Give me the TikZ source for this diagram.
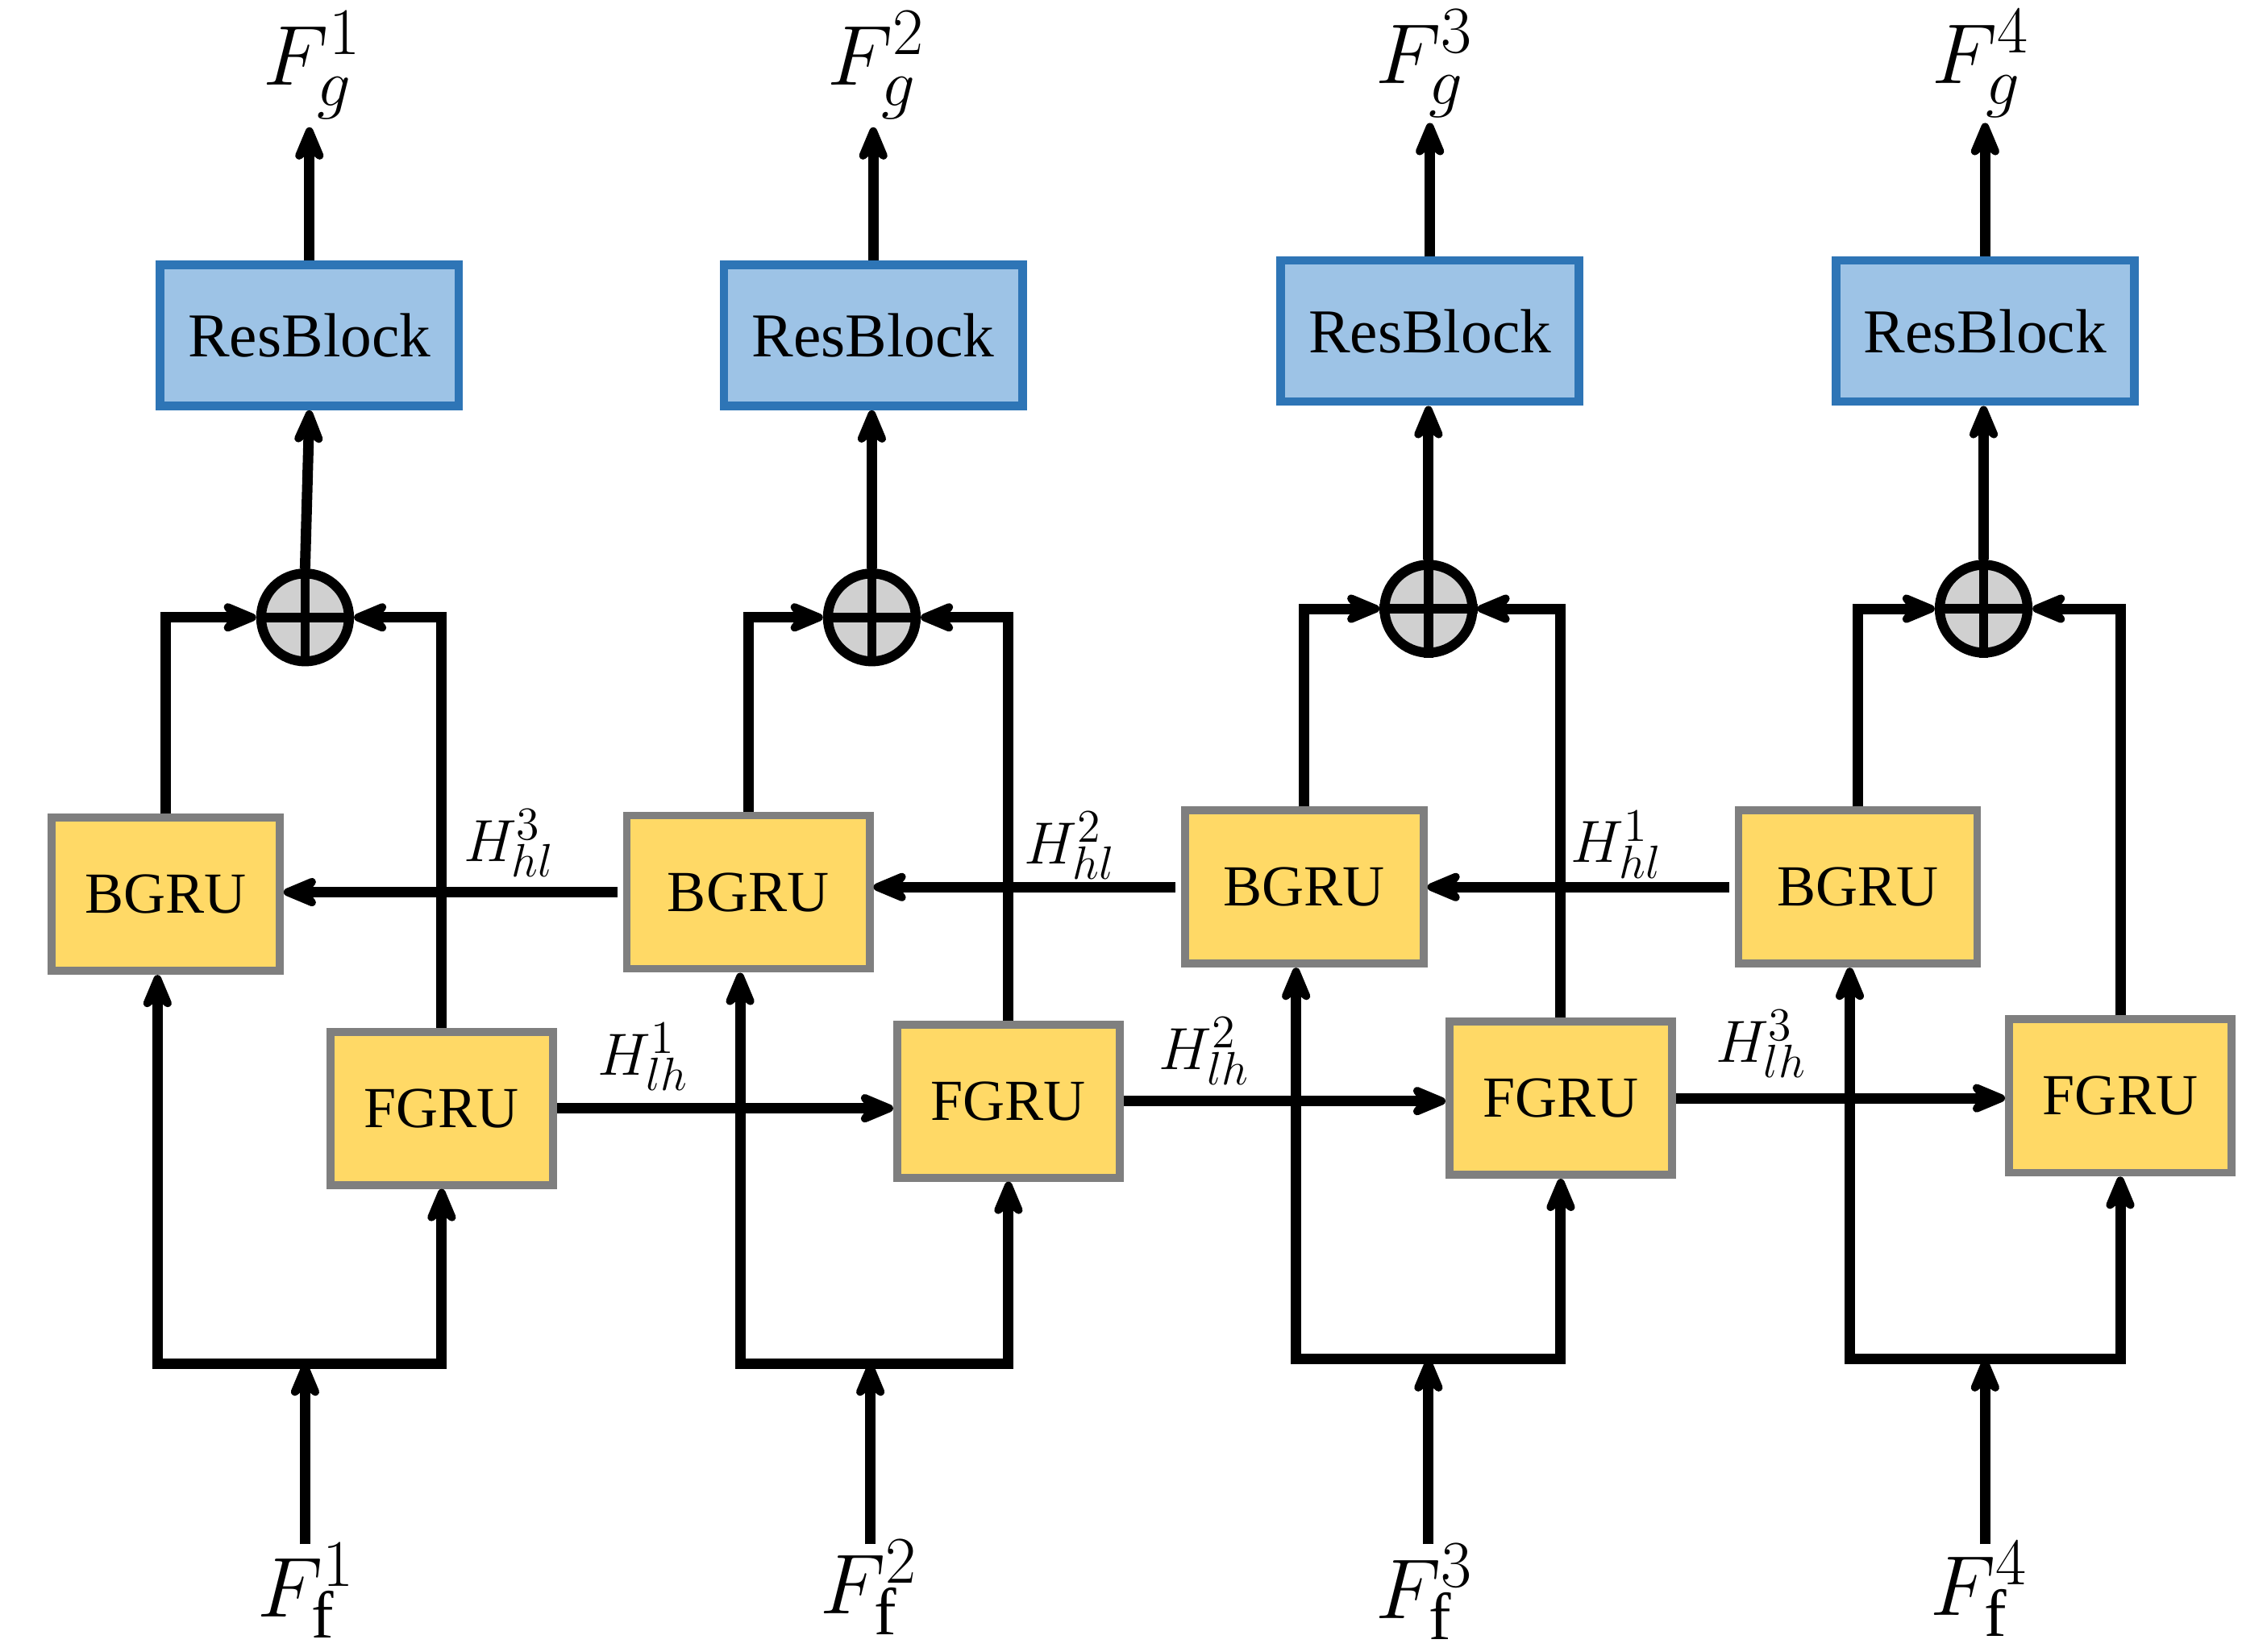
\RequirePackage{fix-cm}
\documentclass[tikz,border=0pt]{standalone}
\usepackage{fontspec}
\setmainfont{Liberation Serif}
\DeclareMathSizes{30}{30}{23.5}{19}
\DeclareMathSizes{21}{21}{16.5}{13}
\usetikzlibrary{arrows.meta}
\definecolor{rbfill}{HTML}{9DC3E6}
\definecolor{rbdraw}{HTML}{2E75B6}
\definecolor{gfill}{HTML}{FFD966}
\definecolor{gdraw}{HTML}{7F7F7F}
\definecolor{pfill}{HTML}{D0D0D0}
\begin{document}
\begin{tikzpicture}[x=0.017934cm,y=-0.017934cm,
  resbox/.style={draw=rbdraw,fill=rbfill,line width=3pt,minimum width=3.70cm,minimum height=1.75cm,inner sep=0pt,font=\fontsize{22}{26}\selectfont},
  gru/.style={draw=gdraw,fill=gfill,line width=2.8pt,minimum width=#1,minimum height=1.90cm,inner sep=0pt,font=\fontsize{20.5}{24}\selectfont},
  plusnode/.style={circle,draw,fill=pfill,line width=3.5pt,minimum size=1.09cm,inner sep=0pt},
  conn/.style={line width=3.7pt},
  arr/.style={conn,-{Stealth[length=5.8mm,width=4.8mm,inset=1.9mm,round]}},
  biglab/.style={font=\fontsize{30}{36}\selectfont,inner sep=0pt},
  hlab/.style={font=\fontsize{21}{25}\selectfont,inner sep=0pt}]
\useasboundingbox (0,0) rectangle (1568,1142);

% ResBlocks
\node[resbox] (r1) at (214,232) {ResBlock};
\node[resbox] (r2) at (604,232) {ResBlock};
\node[resbox] (r3) at (989,229) {ResBlock};
\node[resbox] (r4) at (1373,229) {ResBlock};

% plus nodes
\node[plusnode] (p1) at (211,427) {};
\node[plusnode] (p2) at (603,427) {};
\node[plusnode] (p3) at (988,421) {};
\node[plusnode] (p4) at (1372,421) {};
\foreach \i in {1,...,4}{
  \draw[line width=3.3pt] (p\i.north) -- (p\i.south);
  \draw[line width=3.3pt] (p\i.west) -- (p\i.east);
}

% BGRU
\node[gru=2.83cm] (b1) at (114.5,618.5) {BGRU};
\node[gru=3.01cm] (b2) at (517.5,617) {BGRU};
\node[gru=2.96cm] (b3) at (902,613.5) {BGRU};
\node[gru=2.96cm] (b4) at (1285,613.5) {BGRU};

% FGRU
\node[gru=2.76cm] (f1) at (305.5,766.5) {FGRU};
\node[gru=2.76cm] (f2) at (697.5,761.5) {FGRU};
\node[gru=2.76cm] (f3) at (1079.5,759.5) {FGRU};
\node[gru=2.76cm] (f4) at (1466.5,758) {FGRU};

% output labels
\node[biglab] (o1) at (216,45) {$F_g^1$};
\node[biglab] (o2) at (606,45) {$F_g^2$};
\node[biglab] (o3) at (985,44) {$F_g^3$};
\node[biglab] (o4) at (1370,44) {$F_g^4$};

% input labels
\node[biglab] (i1) at (212,1100) {$F_{\mathrm{f}}^1$};
\node[biglab] (i2) at (601,1098) {$F_{\mathrm{f}}^2$};
\node[biglab] (i3) at (985,1101) {$F_{\mathrm{f}}^3$};
\node[biglab] (i4) at (1369,1099) {$F_{\mathrm{f}}^4$};

% coordinates
\coordinate (t1) at (210,88);
\coordinate (t2) at (602,88);
\coordinate (t3) at (986,85);
\coordinate (t4) at (1370,85);
\coordinate (s1) at (211,1068);
\coordinate (s2) at (602,1068);
\coordinate (s3) at (988,1068);
\coordinate (s4) at (1373,1068);
\coordinate (j1) at (211,943);
\coordinate (j2) at (602,943);
\coordinate (j3) at (988,940);
\coordinate (j4) at (1373,940);

\draw[arr] (p1.north) -- (r1.south);
\foreach \i in {2,3,4}{
  \draw[arr] (p\i.north) -- (p\i.north |- r\i.south);
}
\foreach \i in {1,...,4}{
  \draw[arr] (r\i.north) -- (r\i.north |- t\i);
  \draw[arr] (b\i.north) |- (p\i.west);
  \draw[arr] (f\i.north) |- (p\i.east);
  \draw[arr] (s\i) -- (j\i);
  \draw[arr] (j\i) -| ([xshift=-0.1cm]b\i.south);
  \draw[arr] (j\i) -| (f\i.south);
}

% recurrent connections
\draw[arr,shorten <=2pt] (b2.west) -- (b1.east |- b2.west);
\draw[arr,shorten <=2pt] (b3.west) -- (b2.east |- b3.west);
\draw[arr,shorten <=2pt] (b4.west) -- (b3.east |- b4.west);
\draw[arr] (f1.east) -- (f2.west |- f1.east);
\draw[arr] (f2.east) -- (f3.west |- f2.east);
\draw[arr] (f3.east) -- (f4.west |- f3.east);

% H labels
\node[hlab] (h1) at (352,583) {$H_{hl}^3$};
\node[hlab] (h2) at (740,585) {$H_{hl}^2$};
\node[hlab] (h3) at (1118,584) {$H_{hl}^1$};
\node[hlab] (h4) at (445,731) {$H_{lh}^1$};
\node[hlab] (h5) at (833,727) {$H_{lh}^2$};
\node[hlab] (h6) at (1218,722) {$H_{lh}^3$};
\end{tikzpicture}
\end{document}
